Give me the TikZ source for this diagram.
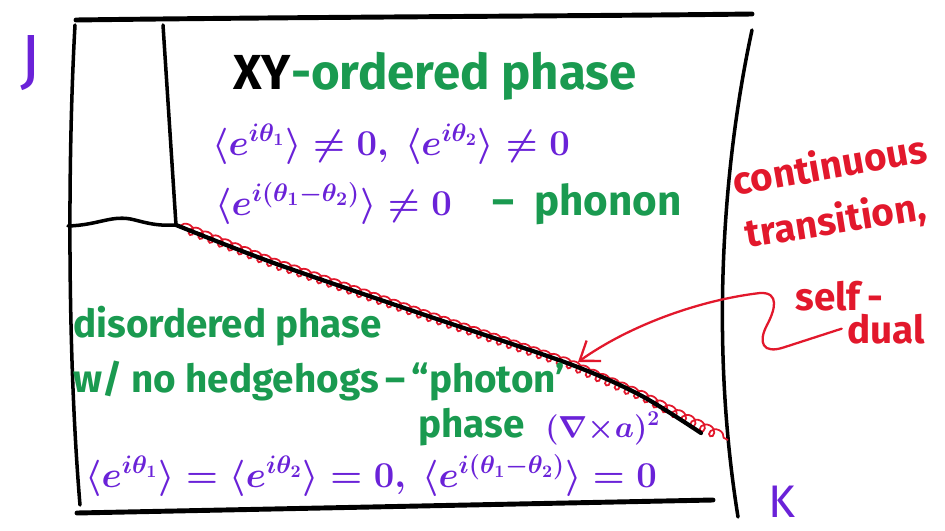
\documentclass[tikz,border=0pt]{standalone}
\usepackage{amsmath}
\usepackage{fontspec}
\setmainfont{Fira Sans}
\usetikzlibrary{arrows.meta,decorations.pathmorphing}
\definecolor{phgreen}{HTML}{1A9A50}
\definecolor{phpurple}{HTML}{6A22D8}
\definecolor{phred}{HTML}{E2182C}

\begin{document}
\begin{tikzpicture}[
    x=0.02cm,y=-0.02cm,
    frame/.style={line width=2.8pt,line cap=round},
    wall/.style={line width=2pt,line cap=round},
    crit/.style={draw=phred,line width=1pt,decorate,decoration={coil,aspect=1,amplitude=2.7pt,segment length=6pt}},
    lbl/.style={anchor=base west,inner sep=0pt},
    big/.style={font=\fontsize{28}{32}\selectfont\bfseries},
    med/.style={font=\fontsize{22}{26}\selectfont\bfseries},
    eqn/.style={font=\fontsize{20}{24}\selectfont\boldmath,text=phpurple},
    note/.style={font=\fontsize{22}{26}\selectfont\bfseries,text=phred},
    arr/.style={-{Straight Barb[length=3.5mm,width=5mm]},draw=phred,line width=1.3pt}
  ]
    \useasboundingbox (0,0) rectangle (945,530);
    % outer box and the small left strip
    \draw[frame] (76,20) .. controls (300,17) and (600,16) .. (752,14);
    \draw[frame] (77,513) -- (713,500);
    \draw[wall] (75,25) .. controls (68,150) and (67,350) .. (80,505);
    \draw[wall] (752,30) .. controls (726,150) and (708,330) .. (738,517);
    \coordinate (tri) at (176,225);
    \draw[wall] (163,25) -- (tri);
    \draw[wall] (68,226) .. controls (100,225) and (112,214) .. (135,220)
      .. controls (150,224) and (160,226) .. (tri);
    % phase boundary
    \draw[crit] (180,226) -- (271,262) -- (419,313) -- (567,363) -- (640,395) -- (728,440);
    \draw[wall,line width=2.4pt] plot[smooth] coordinates {(176,225) (271,262) (419,313) (567,363) (640,395) (701,433)};
    \coordinate (sd) at (578,362);
    % labels
    \node[lbl,phpurple,font=\fontsize{38}{44}\selectfont] (jlab) at (20,82) {J};
    \node[lbl,phpurple,font=\fontsize{26}{30}\selectfont] (klab) at (768,517) {K};
    \node[lbl,big] (xy) at (233,90) {XY\textcolor{phgreen}{-ordered phase}};
    \node[lbl,eqn] (ordA) at (212,155) {$\langle e^{i\theta_1}\rangle\neq0,\ \langle e^{i\theta_2}\rangle\neq0$};
    \node[lbl,eqn,font=\fontsize{21}{25}\selectfont\boldmath] (ordB) at (215,215) {$\langle e^{i(\theta_1-\theta_2)}\rangle\neq0$};
    \node[lbl,med,phgreen,font=\fontsize{24}{28}\selectfont\bfseries] (phonon) at (492,215) {--\ \ phonon};
    \node[lbl,note,rotate=10] (cont) at (735,196) {continuous};
    \node[lbl,note,rotate=9] (trans) at (747,248) {transition,};
    \node[lbl,note] (self) at (795,310) {self\,-};
    \node[lbl,note] (dual) at (847,343) {dual};
    \node[lbl,med,phgreen] (dis) at (73,337) {disordered phase};
    \node[lbl,med,phgreen] (hedge) at (73,392) {w/ no hedgehogs\,--\,``photon'};
    \node[lbl,med,phgreen] (ph) at (418,437) {phase};
    \node[lbl,eqn,font=\fontsize{17}{21}\selectfont\boldmath] (curl) at (545,437) {$(\nabla{\times}a)^2$};
    \node[lbl,eqn] (disA) at (85,487) {$\langle e^{i\theta_1}\rangle=\langle e^{i\theta_2}\rangle=0,\ \langle e^{i(\theta_1-\theta_2)}\rangle=0$};
    % self-dual pointer
    \coordinate (hook) at (760,293);
    \draw[arr] (hook) .. controls (700,300) and (630,325) .. (sd);
    \draw[draw=phred,line width=1.3pt,line cap=round] (hook) .. controls (780,292) and (775,310) .. (767,325)
      .. controls (758,342) and (762,355) .. (785,347) -- ([xshift=-3pt]dual.west);
\end{tikzpicture}
\end{document}
